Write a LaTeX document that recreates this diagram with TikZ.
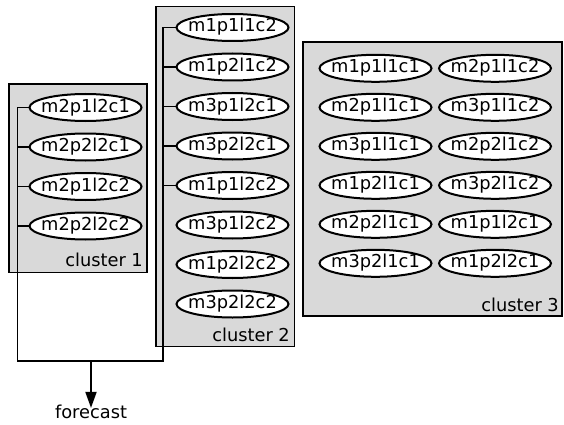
\documentclass[tikz,border=0pt]{standalone}
\usepackage{fontspec}
\setmainfont{DejaVu Sans}
\usetikzlibrary{shapes.geometric,arrows.meta}
\definecolor{framefill}{RGB}{217,217,217}
\newcommand{\mname}[1]{\makebox[0pt]{#1}}
\tikzset{
  clusterbox/.style={draw=black, fill=framefill, line width=1.5pt},
  model/.style={ellipse, draw=black, fill=white, line width=2pt,
    minimum width=112pt, minimum height=27pt, inner sep=0pt,
    text height=13pt, text depth=4pt,
    font=\fontsize{17.8}{20}\selectfont},
  clabel/.style={anchor=east, font=\fontsize{17.8}{20}\selectfont, inner sep=0pt},
  wire/.style={draw=black, line width=1.8pt},
}
\begin{document}
\begin{tikzpicture}[x=1pt, y=-1pt]
\useasboundingbox (0,0) rectangle (564,425);

% cluster frames
\draw[clusterbox] (9,84) rectangle (147,272.5);
\draw[clusterbox] (156,6.5) rectangle (294.5,346.5);
\draw[clusterbox] (303,42) rectangle (562,316);

\node[clabel] (lab1) at (143,260) {cluster 1};
\node[clabel] (lab2) at (290,335) {cluster 2};
\node[clabel] (lab3) at (559,305) {cluster 3};

% cluster 1 models
\foreach \n/\t [count=\i] in {a/m2p1l2c1, b/m2p2l2c1, c/m2p1l2c2, d/m2p2l2c2}
  \node[model] (k1\n) at (85.5, {107.5+39.5*(\i-1)}) {\mname{\t}};

% cluster 2 models
\foreach \n/\t [count=\i] in {a/m1p1l1c2, b/m1p2l1c2, c/m3p1l2c1, d/m3p2l2c1,
    e/m1p1l2c2, f/m3p1l2c2, g/m1p2l2c2, h/m3p2l2c2}
  \node[model] (k2\n) at (232.5, {27.5+39.5*(\i-1)}) {\mname{\t}};

% cluster 3 models, two columns
\foreach \n/\t [count=\i] in {a/m1p1l1c1, b/m2p1l1c1, c/m3p1l1c1,
    d/m1p2l1c1, e/m2p2l1c1, f/m3p2l1c1}
  \node[model] (k3\n) at (375.5, {68.3+39*(\i-1)}) {\mname{\t}};
\foreach \n/\t [count=\i] in {a/m2p1l1c2, b/m3p1l1c2, c/m2p2l1c2,
    d/m3p2l1c2, e/m1p1l2c1, f/m1p2l2c1}
  \node[model] (k4\n) at (495, {68.3+39*(\i-1)}) {\mname{\t}};

% combining wires
\coordinate (t1) at (17.5,107.5);
\coordinate (b1) at (17.5,361);
\coordinate (t2) at (163.3,27.5);
\coordinate (b2) at (163.3,361);
\coordinate (join) at (91,361);

\foreach \n in {a,b,c,d}
  \draw[wire] (k1\n.west) -- (k1\n.west -| t1);
\foreach \n in {a,b,c,d,e}
  \draw[wire] (k2\n.west) -- (k2\n.west -| t2);
\draw[wire] (t1) -- (b1) -- (b2) -- (t2);

\node[font=\fontsize{17.8}{20}\selectfont, inner sep=0pt] (fc) at (91,412) {forecast};
\draw[wire, -{Triangle[length=16pt,width=11pt]}] (join) -- ([yshift=-3pt]fc.north);
\end{tikzpicture}
\end{document}
